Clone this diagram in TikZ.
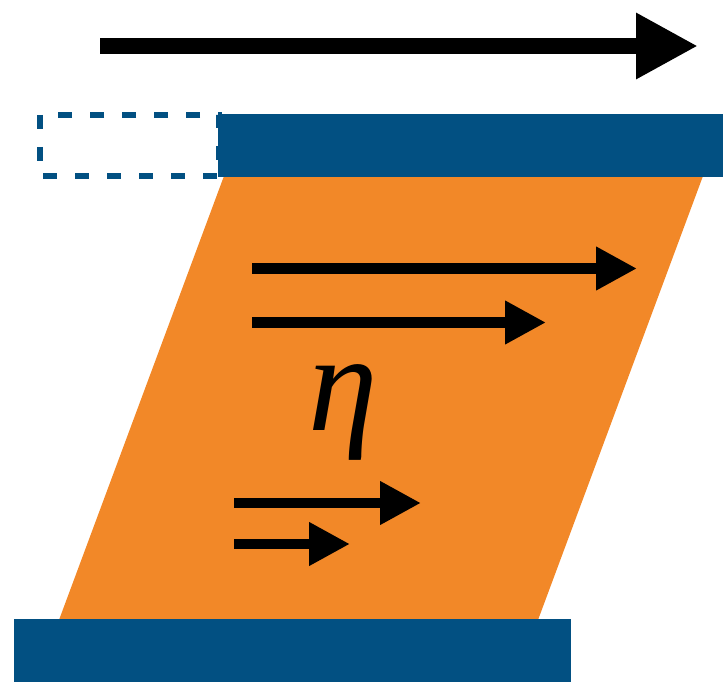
\documentclass[tikz,border=0pt]{standalone}
\usepackage{fontspec}
\newfontfamily\etafont{Liberation Serif}
\usetikzlibrary{arrows.meta}
\definecolor{plateblue}{RGB}{2,80,130}
\definecolor{fluidorange}{RGB}{242,136,40}
\tikzset{
  plate/.style={fill=plateblue, draw=none},
  bigarrow/.style={line width=16pt, -{Triangle[length=62pt,width=62pt]}},
  flowarrow/.style={line width=10.5pt, -{Triangle[length=41pt,width=41pt]}},
  ghost/.style={draw=plateblue, line width=6pt, dash pattern=on 14pt off 18pt},
}
\begin{document}
\begin{tikzpicture}[x=1pt,y=-1pt]
\useasboundingbox (0,0) rectangle (723,682);
% fluid
\fill[fluidorange] (224,176) -- (703,176) -- (538,620) -- (59,620) -- cycle;
% ghost (previous position) of top plate
\draw[ghost] (40,115) rectangle (219,176);
% plates
\fill[plate] (218,114) rectangle (723,177);
\fill[plate] (14,619) rectangle (571,682);
% plate velocity arrow
\coordinate (va) at (100,46);
\coordinate (vb) at (698,46);
\draw[bigarrow] (va) -- (vb);
% velocity profile arrows
\coordinate (a1s) at (252,268.5); \coordinate (a1e) at (637,268.5);
\coordinate (a2s) at (252,322.5); \coordinate (a2e) at (546,322.5);
\coordinate (a3s) at (234,503);   \coordinate (a3e) at (421,503);
\coordinate (a4s) at (234,544);   \coordinate (a4e) at (350,544);
\draw[flowarrow] (a1s) -- (a1e);
\draw[flowarrow] (a2s) -- (a2e);
\draw[flowarrow] (a3s) -- (a3e);
\draw[flowarrow] (a4s) -- (a4e);
% viscosity
\node[inner sep=0pt] (eta) at (343,412) {\etafont\itshape\fontsize{140}{140}\selectfont η};
\end{tikzpicture}
\end{document}
